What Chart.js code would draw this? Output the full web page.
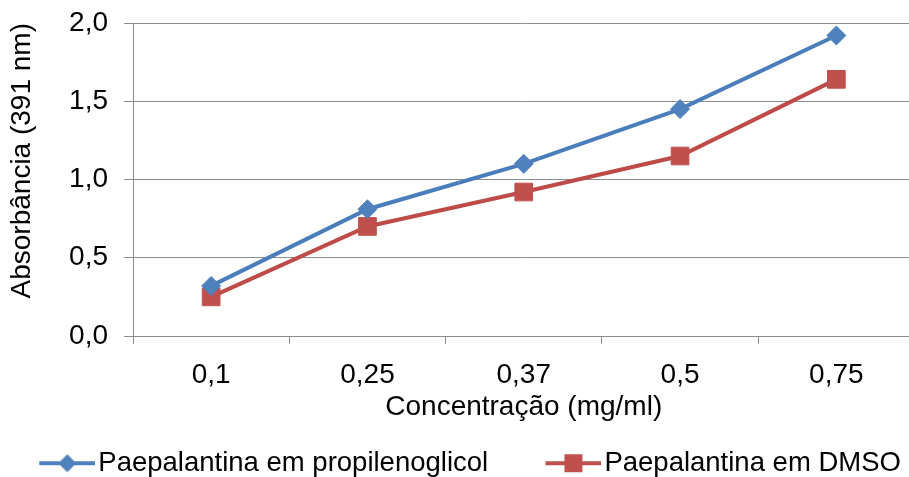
<!DOCTYPE html>
<html>
<head>
<meta charset="utf-8">
<script src="https://cdn.jsdelivr.net/npm/chart.js@4"></script>
<style>
  html, body { margin: 0; padding: 0; background: #fff; overflow: hidden; }
  canvas { display: block; }
</style>
</head>
<body>
<canvas id="absChart" width="928" height="487"></canvas>
<script>
// Concentrations (mg/ml) and absorbance at 391 nm
const concentrations = ['0,1', '0,25', '0,37', '0,5', '0,75'];
const propilenoglicol = [0.32, 0.81, 1.10, 1.45, 1.92];
const dmso = [0.25, 0.70, 0.92, 1.15, 1.64];
const yTicks = [0, 0.5, 1.0, 1.5, 2.0];

const FAMILY = '"Liberation Sans", Arial, sans-serif';
const FONT = { family: FAMILY, size: 28 };
const LEGEND_FONT = { family: FAMILY, size: 27.5 };
const GRID = '#8c8c8c';

// line + marker icon for the legend; blank space on the left separates the entries
function legendIcon(color, style) {
  const c = document.createElement('canvas');
  c.width = 117; c.height = 20;
  const g = c.getContext('2d');
  const x0 = 61;
  g.strokeStyle = color;
  g.lineWidth = 4;
  g.beginPath(); g.moveTo(x0, 10); g.lineTo(x0 + 56, 10); g.stroke();
  g.fillStyle = color;
  g.beginPath();
  const cx = x0 + 28;
  if (style === 'diamond') {
    g.moveTo(cx, 1); g.lineTo(cx + 9, 10); g.lineTo(cx, 19); g.lineTo(cx - 9, 10);
  } else {
    g.rect(cx - 9, 1, 18, 18);
  }
  g.fill();
  return c;
}

const series = [
  { label: 'Paepalantina em propilenoglicol', data: propilenoglicol, line: '#4a7ebb', fill: '#4f81bd', style: 'rectRot', radius: 9.5, icon: 'diamond' },
  { label: 'Paepalantina em DMSO', data: dmso, line: '#be4b48', fill: '#c0504d', style: 'rect', radius: 12.5, icon: 'square' }
];

new Chart(document.getElementById('absChart'), {
  type: 'line',
  data: {
    labels: concentrations,
    datasets: series.map(s => ({
      label: s.label,
      data: s.data,
      borderColor: s.line,
      borderWidth: 4,
      backgroundColor: s.fill,
      pointStyle: s.style,
      pointRadius: s.radius,
      pointHoverRadius: s.radius,
      pointBackgroundColor: s.fill,
      pointBorderColor: s.fill,
      pointBorderWidth: 1,
      tension: 0,
      fill: false
    }))
  },
  options: {
    responsive: false,
    animation: false,
    layout: { padding: { top: 0, right: 3, left: -35, bottom: 0 } },
    scales: {
      x: {
        offset: true,
        afterFit: s => { s.height = 106.5; s.paddingLeft = 0; s.paddingRight = 0; },
        grid: { offset: true, drawOnChartArea: false, drawTicks: true, tickLength: 8, color: GRID },
        border: { color: GRID, width: 1 },
        ticks: { color: '#000', font: FONT, padding: 14 },
        title: { display: true, text: 'Concentração (mg/ml)', color: '#000', font: FONT, padding: { top: 0, bottom: 18.7 } }
      },
      y: {
        min: 0,
        max: 2,
        afterBuildTicks: s => { s.ticks = yTicks.map(v => ({ value: v })); },
        afterFit: s => { s.width = 168; s.paddingTop = 23; s.paddingBottom = 0; },
        grid: { color: GRID, tickLength: 9 },
        border: { color: GRID, width: 1 },
        ticks: {
          color: '#000',
          font: FONT,
          padding: 16,
          callback: v => v.toFixed(1).replace('.', ',')
        },
        title: { display: true, text: 'Absorbância (391 nm)', align: 'end', color: '#000', font: FONT, padding: { top: 40, bottom: 0 } }
      }
    },
    plugins: {
      legend: {
        position: 'bottom',
        labels: {
          color: '#000',
          font: LEGEND_FONT,
          usePointStyle: true,
          pointStyleWidth: 95.5,
          padding: 7,
          generateLabels: chart => chart.data.datasets.map((ds, i) => ({
            text: ds.label,
            datasetIndex: i,
            pointStyle: legendIcon(series[i].fill, series[i].icon),
            fillStyle: series[i].fill,
            strokeStyle: series[i].fill,
            lineWidth: 0,
            hidden: false
          }))
        }
      },
      tooltip: { enabled: false }
    }
  }
});
</script>
</body>
</html>
